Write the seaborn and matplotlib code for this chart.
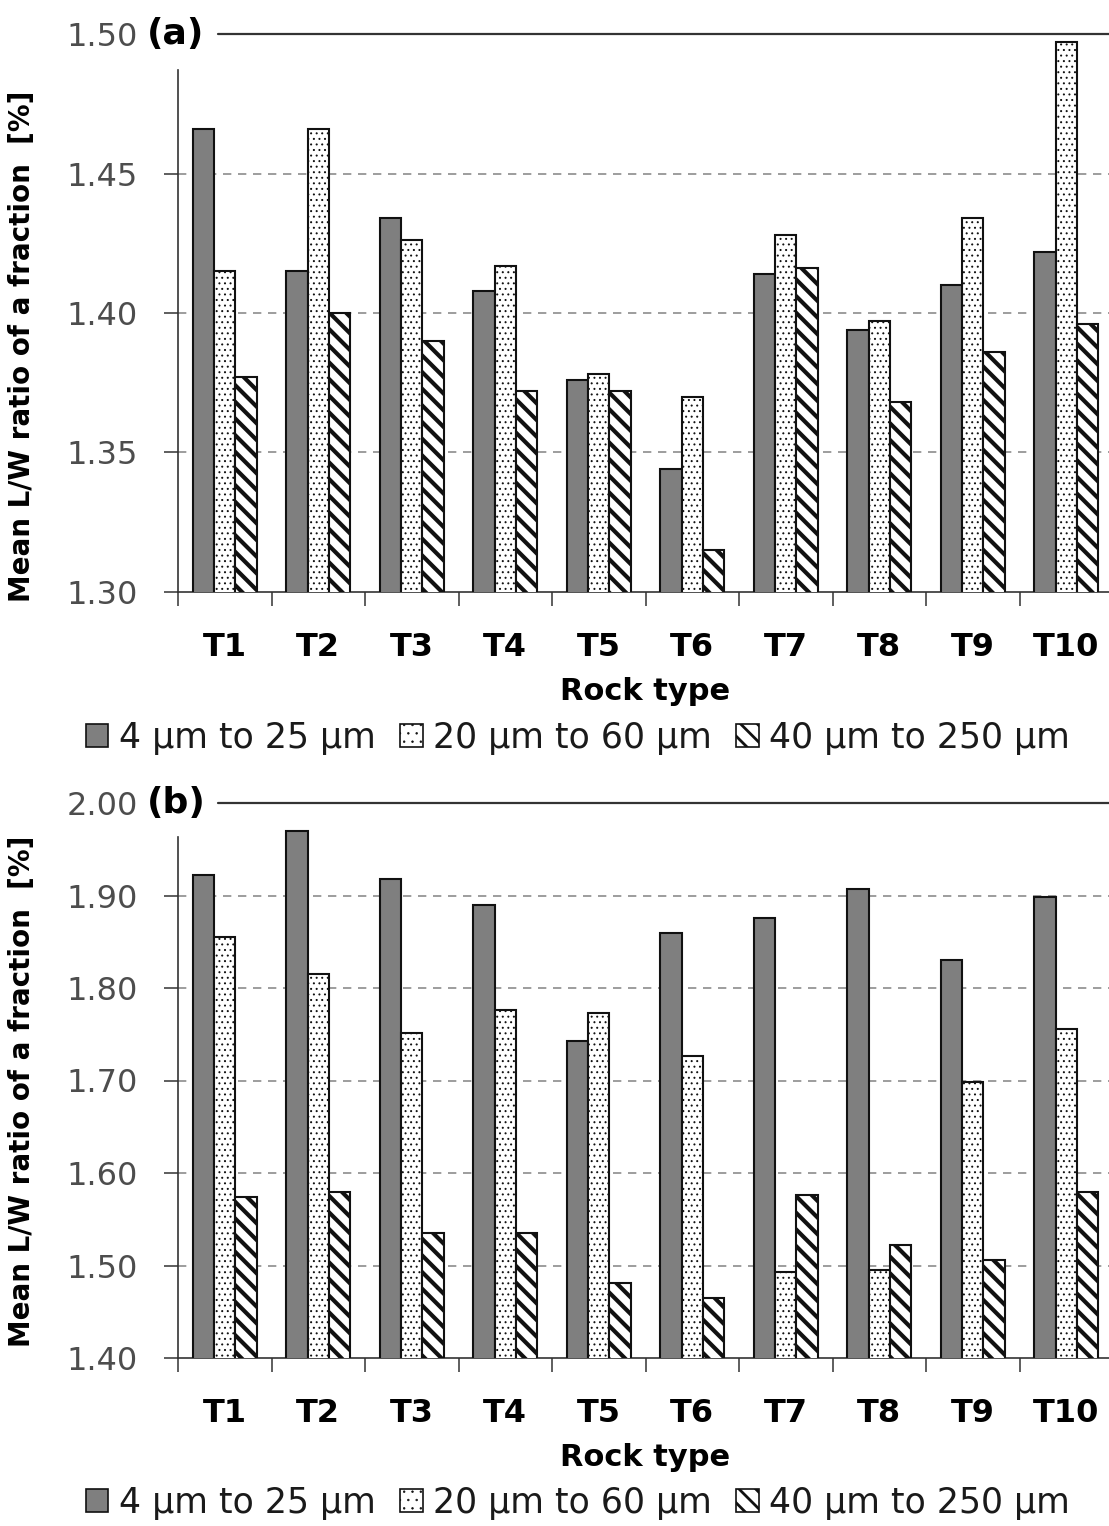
import numpy as np
import pandas as pd
import matplotlib
matplotlib.use("Agg")
import matplotlib.pyplot as plt
import seaborn as sns
from matplotlib.patches import Patch

# ---------------------------------------------------------------
# DATA
# ---------------------------------------------------------------
rock_types = ["T1", "T2", "T3", "T4", "T5", "T6", "T7", "T8", "T9", "T10"]
fractions = ["4 µm to 25 µm", "20 µm to 60 µm", "40 µm to 250 µm"]

# panel (a)
a_fine = [1.466, 1.415, 1.434, 1.408, 1.376, 1.344, 1.414, 1.394, 1.410, 1.422]
a_mid = [1.415, 1.466, 1.426, 1.417, 1.378, 1.370, 1.428, 1.397, 1.434, 1.497]
a_coarse = [1.377, 1.400, 1.390, 1.372, 1.372, 1.315, 1.416, 1.368, 1.386, 1.396]
a_yticks = [1.30, 1.35, 1.40, 1.45, 1.50]

# panel (b)
b_fine = [1.922, 1.970, 1.918, 1.890, 1.743, 1.859, 1.876, 1.907, 1.830, 1.898]
b_mid = [1.855, 1.815, 1.751, 1.776, 1.773, 1.726, 1.493, 1.495, 1.698, 1.756]
b_coarse = [1.574, 1.579, 1.535, 1.535, 1.481, 1.465, 1.576, 1.522, 1.506, 1.579]
b_yticks = [1.40, 1.50, 1.60, 1.70, 1.80, 1.90, 2.00]

# ---------------------------------------------------------------
# STYLE
# ---------------------------------------------------------------
sns.set_style("white")
plt.rcParams["font.family"] = ["DejaVu Sans"]
plt.rcParams["hatch.linewidth"] = 3.0

BAR_COLORS = ["#7f7f7f", "white", "white"]
HATCHES = [None, "...", "\\\\"]
HATCH_LW = [1.0, 0.7, 3.0]
EDGE = "#111111"
YLABEL = "Mean L/W ratio of a fraction  [%]"

W, H = 1109, 1526
fig = plt.figure(figsize=(W / 100, H / 100), dpi=100)


def long_table(fine, mid, coarse):
    rows = []
    for name, vals in zip(fractions, [fine, mid, coarse]):
        for rock, v in zip(rock_types, vals):
            rows.append({"rock": rock, "fraction": name, "ratio": v})
    return pd.DataFrame(rows)


def draw_panel(ax, fine, mid, coarse, yticks, tag, spine_top, label_y):
    df = long_table(fine, mid, coarse)
    sns.barplot(data=df, x="rock", y="ratio", hue="fraction",
                order=rock_types, hue_order=fractions, palette=BAR_COLORS,
                width=0.68, edgecolor=EDGE, linewidth=1.5, errorbar=None,
                legend=False, ax=ax, zorder=3)
    for cont, hatch, hlw in zip(ax.containers, HATCHES, HATCH_LW):
        for bar in cont:
            if hatch:
                bar.set_hatch(hatch)
            if hasattr(bar, "set_hatch_linewidth"):
                bar.set_hatch_linewidth(hlw)

    lo, hi = yticks[0], yticks[-1]
    ax.set_ylim(lo, hi)
    ax.set_xlim(-0.5, len(rock_types) - 0.5)

    # dashed grid, solid line on top
    for y in yticks[1:-1]:
        ax.axhline(y, color="#8c8c8c", lw=1.2, ls=(0, (5, 4)), zorder=1)
    ax.axhline(hi, xmin=40 / 935, color="#333333", lw=1.6, clip_on=False, zorder=1)

    for s in ["top", "right"]:
        ax.spines[s].set_visible(False)
    ax.spines["left"].set_bounds(lo, spine_top)
    ax.spines["left"].set_color("#333333")
    ax.spines["bottom"].set_color("#333333")
    ax.spines["left"].set_linewidth(1.2)
    ax.spines["bottom"].set_linewidth(1.2)

    ax.set_yticks(yticks)
    ax.set_yticklabels([f"{t:.2f}" for t in yticks])
    ax.tick_params(axis="y", direction="out", length=10, width=1.1,
                   color="#333333", pad=19, labelsize=23, labelcolor="#4d4d4d", left=True)
    ax.yaxis.get_major_ticks()[-1].tick1line.set_visible(False)

    ax.set_xticks(range(len(rock_types)))
    ax.set_xticklabels(rock_types, fontweight="bold")
    ax.set_xticks(np.arange(-0.5, len(rock_types)), minor=True)
    ax.tick_params(axis="x", which="major", length=0, pad=29, labelsize=23, labelcolor="black")
    ax.tick_params(axis="x", which="minor", direction="out", length=10, width=1.1,
                   color="#333333", bottom=True)

    ax.set_xlabel("Rock type", fontsize=22, fontweight="bold", labelpad=10, color="black")
    ax.set_ylabel(YLABEL, fontsize=20, fontweight="bold", color="black")
    ax.yaxis.set_label_coords(-0.152, label_y)

    ax.text(-0.033, 1.0, tag, transform=ax.transAxes, fontsize=26,
            fontweight="bold", ha="left", va="center", color="black")


ax_a = fig.add_axes([178 / W, 1 - 592 / H, 935 / W, (592 - 34) / H])
ax_b = fig.add_axes([178 / W, 1 - 1358 / H, 935 / W, (1358 - 803) / H])

draw_panel(ax_a, a_fine, a_mid, a_coarse, a_yticks, "(a)", 1.487, 0.44)
draw_panel(ax_b, b_fine, b_mid, b_coarse, b_yticks, "(b)", 1.963, 0.48)

for ypix in [738, 1503]:
    handles = []
    for c, h, hlw in zip(BAR_COLORS, HATCHES, HATCH_LW):
        p = Patch(facecolor=c, edgecolor=EDGE, hatch=h, linewidth=1.2)
        handles.append(p)
    leg = fig.legend(handles, fractions, loc="center", bbox_to_anchor=(578 / W, 1 - ypix / H),
                     ncol=3, frameon=False, fontsize=25, handlelength=0.65, handleheight=0.65,
                     handletextpad=0.3, columnspacing=0.7, labelcolor="#1a1a1a")
    for p, hlw in zip(leg.get_patches(), [1.0, 0.5, 2.0]):
        if hasattr(p, "set_hatch_linewidth"):
            p.set_hatch_linewidth(hlw)
    leg.get_patches()[1].set_hatch("..")

fig.savefig("out.png", dpi=100)
